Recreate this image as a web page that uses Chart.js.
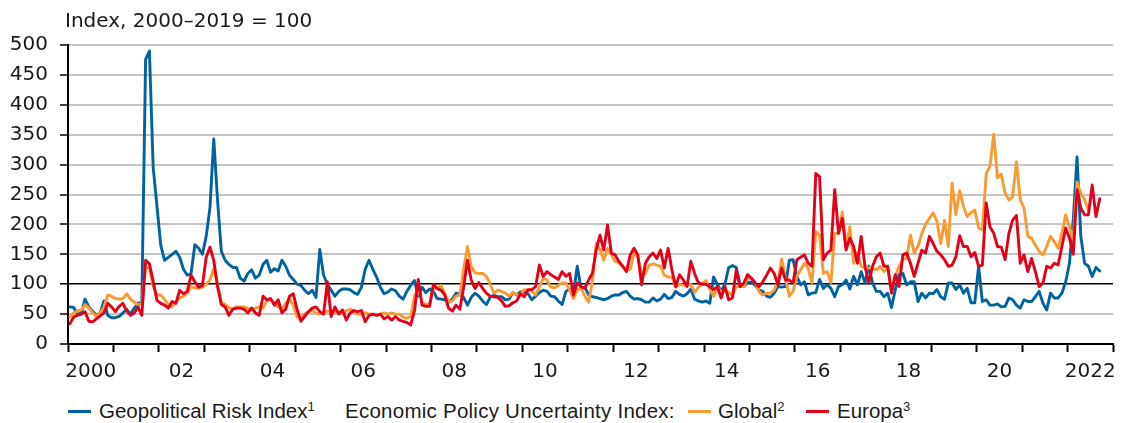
<!DOCTYPE html>
<html>
<head>
<meta charset="utf-8">
<script src="https://cdn.jsdelivr.net/npm/chart.js@4.4.1/dist/chart.umd.min.js"></script>
<style>
html,body{margin:0;padding:0;background:#fff;}
#wrap{position:relative;width:1121px;height:423px;overflow:hidden;color:#1a1a1a;}
#unit{position:absolute;left:65px;top:10px;font-family:"DejaVu Sans",sans-serif;font-size:20px;line-height:20px;white-space:nowrap;}
#c{position:absolute;left:0;top:0;}
.leg{position:absolute;top:401px;font-family:"Liberation Sans",Arial,sans-serif;font-size:20.5px;line-height:20px;white-space:nowrap;}
.sw{position:absolute;top:410px;height:3px;width:23px;}
sup{font-size:13px;line-height:0;vertical-align:7px;}
</style>
</head>
<body>
<div id="wrap">
  <canvas id="c" width="1121" height="384"></canvas>
  <div id="unit">Index, 2000–2019 = 100</div>
  <div class="sw" style="left:68px;background:#0062a0"></div>
  <div class="leg" style="left:99px">Geopolitical Risk Index<sup>1</sup></div>
  <div class="leg" style="left:345px;letter-spacing:0.25px">Economic Policy Uncertainty Index:</div>
  <div class="sw" style="left:688px;background:#fb9a33"></div>
  <div class="leg" style="left:718px">Global<sup>2</sup></div>
  <div class="sw" style="left:806px;background:#e2001a"></div>
  <div class="leg" style="left:837px">Europa<sup>3</sup></div>
</div>
<script>
// Monthly values, January 2000 onwards
const firstYear = 2000;
const lastYear = 2022;
const seriesNames = ["Geopolitical Risk Index", "Global", "Europa"];
const yTicks = [0, 50, 100, 150, 200, 250, 300, 350, 400, 450, 500];

const geopoliticalRisk = [
  62, 61, 50, 52, 75, 62, 55, 48, 52, 72, 48, 44,
  44, 46, 52, 58, 50, 60, 68, 70, 476, 490, 295, 230,
  165, 140, 145, 150, 155, 145, 125, 115, 118, 166, 160, 150,
  180, 228, 343, 240, 155, 140, 133, 128, 128, 110, 105, 118,
  124, 110, 115, 133, 140, 120, 126, 122, 140, 130, 115, 108,
  100, 98, 90, 84, 90, 78, 158, 115, 100, 90, 80, 88,
  92, 92, 91, 86, 83, 95, 125, 140, 125, 112, 95, 84,
  87, 92, 89, 80, 75, 88, 98, 106, 80, 95, 86, 92,
  88, 76, 75, 74, 70, 75, 85, 83, 78, 65, 78, 85,
  80, 72, 66, 78, 82, 79, 79, 74, 75, 86, 82, 87,
  87, 84, 74, 80, 86, 90, 88, 80, 79, 72, 66, 88,
  92, 84, 130, 93, 95, 82, 79, 78, 76, 74, 76, 80,
  82, 82, 86, 88, 80, 75, 76, 74, 70, 70, 77, 72,
  75, 83, 76, 78, 88, 83, 80, 84, 92, 75, 72, 70,
  72, 68, 112, 100, 88, 100, 128, 131, 128, 100, 96, 103,
  104, 98, 90, 88, 80, 78, 85, 96, 95, 96, 140, 141,
  113, 99, 104, 82, 85, 86, 108, 93, 99, 93, 79, 96,
  99, 107, 92, 113, 99, 121, 102, 130, 102, 88, 88, 79,
  85, 61, 91, 116, 118, 99, 104, 104, 71, 85, 77, 85,
  84, 91, 79, 75, 102, 102, 91, 99, 85, 93, 69, 69,
  130, 71, 74, 65, 65, 67, 62, 63, 77, 74, 65, 60,
  74, 71, 71, 79, 88, 68, 57, 85, 77, 77, 85, 104,
  135, 207, 313, 180, 135, 130, 113, 128, 122
];

const epuGlobal = [
  45, 52, 55, 57, 66, 60, 52, 46, 52, 62, 82, 80,
  76, 75, 76, 84, 75, 70, 65, 68, 128, 128, 96, 82,
  82, 75, 65, 62, 70, 77, 80, 85, 96, 94, 93, 95,
  100, 107, 126, 100, 70, 66, 61, 59, 62, 62, 62, 60,
  58, 60, 62, 60, 72, 75, 68, 62, 58, 68, 76, 65,
  45, 45, 50, 54, 56, 52, 50, 52, 55, 55, 52, 54,
  50, 56, 58, 55, 50, 50, 52, 50, 50, 48, 50, 52,
  50, 52, 50, 50, 45, 43, 46, 80, 92, 70, 66, 66,
  95, 92, 98, 85, 70, 72, 80, 82, 125, 163, 130, 119,
  118, 118, 113, 100, 85, 90, 88, 85, 80, 86, 82, 83,
  91, 90, 88, 82, 95, 110, 107, 95, 94, 98, 102, 102,
  90, 76, 90, 94, 80, 70, 104, 168, 158, 140, 160, 150,
  138, 136, 130, 124, 125, 152, 145, 118, 118, 132, 134, 132,
  130, 115, 112, 112, 95, 100, 98, 98, 100, 86, 95, 100,
  106, 92, 80, 95, 87, 90, 86, 82, 96, 96, 96, 110,
  110, 102, 88, 82, 85, 85, 90, 104, 142, 110, 80, 88,
  113, 124, 135, 127, 102, 188, 182, 118, 121, 102, 185, 185,
  221, 163, 196, 135, 152, 130, 127, 127, 127, 124, 130, 121,
  127, 91, 113, 130, 141, 143, 182, 152, 163, 185, 200, 210,
  219, 205, 168, 207, 163, 269, 216, 256, 230, 213, 220, 224,
  194, 191, 285, 297, 351, 278, 284, 252, 241, 246, 305, 241,
  227, 180, 177, 165, 155, 149, 163, 180, 171, 160, 185, 216,
  196, 174, 271, 252, 241, 224
];

const epuEurope = [
  34, 45, 48, 50, 54, 38, 37, 42, 47, 52, 68, 62,
  54, 63, 68, 55, 48, 52, 62, 48, 140, 134, 105, 73,
  68, 65, 60, 71, 68, 90, 84, 88, 115, 104, 95, 98,
  145, 162, 140, 96, 66, 62, 48, 58, 60, 60, 58, 52,
  60, 52, 48, 80, 74, 76, 65, 74, 52, 58, 80, 84,
  58, 38, 46, 54, 60, 62, 54, 50, 104, 46, 62, 50,
  57, 40, 52, 56, 54, 56, 37, 48, 50, 48, 50, 42,
  46, 40, 46, 40, 38, 36, 32, 55, 108, 65, 63, 63,
  100, 93, 90, 82, 60, 55, 65, 58, 95, 140, 107, 93,
  103, 93, 85, 80, 79, 78, 72, 63, 64, 69, 72, 84,
  79, 91, 91, 96, 132, 113, 121, 116, 112, 108, 121, 113,
  118, 82, 102, 96, 93, 107, 118, 157, 182, 157, 199, 152,
  149, 138, 130, 121, 149, 160, 149, 99, 135, 146, 152, 143,
  157, 127, 160, 124, 96, 116, 107, 96, 138, 118, 102, 100,
  100, 96, 91, 96, 77, 96, 74, 77, 124, 96, 102, 116,
  110, 102, 96, 104, 115, 127, 118, 99, 127, 107, 107, 102,
  141, 145, 149, 135, 130, 285, 280, 141, 152, 157, 258, 185,
  210, 157, 177, 163, 135, 180, 130, 102, 130, 146, 152, 130,
  130, 85, 116, 96, 149, 152, 135, 113, 135, 157, 152, 180,
  168, 155, 149, 141, 130, 132, 146, 181, 163, 163, 146, 153,
  130, 132, 236, 196, 185, 163, 162, 141, 185, 207, 215, 135,
  149, 121, 143, 121, 96, 102, 130, 127, 135, 132, 163, 194,
  177, 150, 258, 227, 216, 216, 266, 213, 243
];

// month index -> point in the middle of the month
const toPoints = arr => arr.map((v, i) => ({ x: i + 0.5, y: v }));

function yearLabel(v) {
  if (v % 24 !== 0) return '';
  const yr = firstYear + v / 12;
  if (yr === firstYear || yr === lastYear) return String(yr);
  return String(yr).slice(2);
}

const tickFont = { family: 'DejaVu Sans', size: 20 };
const lineBase = { borderWidth: 2.9, pointRadius: 0, pointHoverRadius: 0, tension: 0, borderJoinStyle: 'round', borderCapStyle: 'round', fill: false };

new Chart(document.getElementById('c'), {
  type: 'line',
  data: {
    datasets: [
      Object.assign({ label: seriesNames[0], data: toPoints(geopoliticalRisk), borderColor: '#0062a0', order: 2 }, lineBase),
      Object.assign({ label: seriesNames[1], data: toPoints(epuGlobal), borderColor: '#fb9a33', order: 1 }, lineBase),
      Object.assign({ label: seriesNames[2], data: toPoints(epuEurope), borderColor: '#e2001a', order: 0 }, lineBase)
    ]
  },
  options: {
    responsive: false,
    devicePixelRatio: 1,
    animation: false,
    layout: { padding: { top: 45, right: 8, left: 0, bottom: 0 } },
    plugins: { legend: { display: false }, tooltip: { enabled: false }, title: { display: false } },
    scales: {
      x: {
        type: 'linear',
        min: 0,
        max: (lastYear - firstYear + 1) * 12,
        afterFit: s => { s.height = 40; },
        ticks: {
          stepSize: 12,
          autoSkip: false,
          maxTicksLimit: 40,
          maxRotation: 0,
          minRotation: 0,
          labelOffset: 22.7,
          padding: 8,
          color: '#1a1a1a',
          font: tickFont,
          callback: v => yearLabel(v)
        },
        grid: { drawOnChartArea: false, drawTicks: true, tickLength: 8, tickColor: '#000', tickWidth: 2 },
        border: { color: '#000', width: 2 }
      },
      y: {
        min: yTicks[0],
        max: yTicks[yTicks.length - 1],
        afterFit: s => { s.width = 68; },
        afterBuildTicks: s => { s.ticks = yTicks.map(v => ({ value: v })); },
        ticks: { padding: 12, color: '#1a1a1a', font: tickFont },
        grid: {
          color: c => (c.tick && c.tick.value === 100) ? '#000' : '#c4c4c4',
          lineWidth: c => (c.tick && c.tick.value === 100) ? 1.6 : 2,
          drawTicks: true,
          tickLength: 8,
          tickColor: '#000',
          tickWidth: 1.5
        },
        border: { color: '#000', width: 2 }
      }
    }
  }
});
</script>
</body>
</html>
